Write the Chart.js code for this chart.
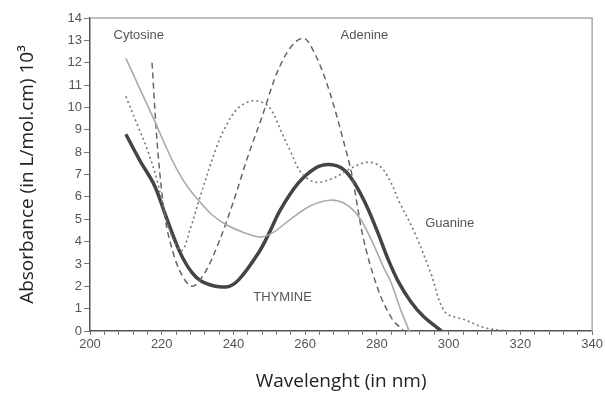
<!DOCTYPE html>
<html>
<head>
<meta charset="utf-8">
<script src="https://cdn.jsdelivr.net/npm/chart.js@4.4.0/dist/chart.umd.min.js"></script>
<style>
  html, body { margin: 0; padding: 0; background: #fff; }
  #wrap { width: 605px; height: 394px; }
</style>
</head>
<body>
<div id="wrap"><canvas id="myChart"></canvas></div>
<script>
// wavelength (nm) and absorbance (L/mol.cm x 10^3)
var thymineNm  = [210, 214, 218, 221, 225, 228.5, 232, 238, 241.5, 247, 250, 253, 258, 263, 266.5, 270, 273, 276.5, 280, 283, 286, 289.5, 293, 298];
var thymineAbs = [8.8, 7.6, 6.5, 5.2, 3.55, 2.6, 2.15, 1.97, 2.3, 3.5, 4.4, 5.4, 6.6, 7.3, 7.45, 7.3, 6.8, 5.8, 4.5, 3.25, 2.2, 1.3, 0.65, 0];

var cytosineNm  = [210, 214, 218, 221, 224, 227, 230.5, 234, 238, 243, 247.5, 251, 255.5, 261.5, 267, 271, 275, 278.5, 282, 284, 286.5, 289];
var cytosineAbs = [12.2, 10.8, 9.4, 8.3, 7.3, 6.5, 5.8, 5.2, 4.75, 4.4, 4.2, 4.4, 4.95, 5.6, 5.85, 5.7, 5.1, 4.05, 2.8, 2.15, 1.0, 0];

var adenineNm  = [217.3, 218.5, 219.5, 221, 223, 225, 228.5, 232, 236, 240, 244, 248, 252, 256, 259.5, 263, 267, 270.5, 273, 276, 280, 284, 287.5];
var adenineAbs = [12.0, 8.9, 7.0, 5.0, 3.6, 2.7, 2.0, 2.6, 4.0, 5.8, 7.8, 9.6, 11.5, 12.7, 13.1, 12.3, 10.6, 8.6, 7.0, 4.3, 2.0, 0.6, 0];

var guanineNm  = [210, 213, 216, 218.6, 222, 225.5, 228, 230.5, 235, 238, 241.5, 246, 250, 253.5, 256, 259, 263, 268, 273, 277.5, 281, 284, 286, 290.5, 295, 299, 304.5, 310, 315, 320];
var guanineAbs = [10.5, 9.3, 8.1, 6.8, 4.6, 3.6, 4.6, 5.9, 8.1, 9.2, 10.0, 10.3, 10.0, 8.85, 8.0, 7.05, 6.65, 6.85, 7.3, 7.55, 7.35, 6.6, 5.85, 4.4, 2.6, 0.85, 0.5, 0.15, 0.03, 0];

var curveLabels = ["Cytosine", "Adenine", "Guanine", "THYMINE"];
var labelNm  = [213.6, 276.5, 300.3, 253.7];
var labelAbs = [13.24, 13.24, 4.8, 1.52];

function pts(xs, ys) {
    return xs.map(function (x, i) { return { x: x, y: ys[i] }; });
}

var framePlugin = {
    id: "frame",
    afterDraw: function (chart) {
        var ctx = chart.ctx, a = chart.chartArea;
        ctx.save();
        ctx.strokeStyle = "#aaa";
        ctx.lineWidth = 1.5;
        ctx.beginPath();
        ctx.moveTo(a.left, a.top);
        ctx.lineTo(a.right, a.top);
        ctx.lineTo(a.right, a.bottom);
        ctx.stroke();

        ctx.fillStyle = "#555";
        ctx.font = "13px 'Liberation Sans', Arial, sans-serif";
        ctx.textAlign = "center";
        ctx.textBaseline = "middle";
        for (var i = 0; i < curveLabels.length; i++) {
            ctx.fillText(curveLabels[i],
                chart.scales.x.getPixelForValue(labelNm[i]),
                chart.scales.y.getPixelForValue(labelAbs[i]));
        }
        ctx.restore();
    }
};

var tickFont = { family: "'Liberation Sans', Arial, sans-serif", size: 13 };

new Chart("myChart", {
    type: "line",
    data: {
        datasets: [{
            label: "Cytosine",
            data: pts(cytosineNm, cytosineAbs),
            borderColor: "#aaa",
            borderWidth: 1.6
        }, {
            label: "Adenine",
            data: pts(adenineNm, adenineAbs),
            borderColor: "#666",
            borderWidth: 1.5,
            borderDash: [6, 4],
            cubicInterpolationMode: "monotone"
        }, {
            label: "Guanine",
            data: pts(guanineNm, guanineAbs),
            borderColor: "#777",
            borderWidth: 1.6,
            borderDash: [2, 3]
        }, {
            label: "Thymine",
            data: pts(thymineNm, thymineAbs),
            borderColor: "#444",
            borderWidth: 3.5
        }]
    },
    options: {
        responsive: true,
        maintainAspectRatio: false,
        animation: false,
        layout: { padding: { top: 18, right: 10, bottom: 0, left: 0 } },
        elements: {
            point: { radius: 0 },
            line: { tension: 0.35, fill: false }
        },
        plugins: {
            legend: { display: false },
            tooltip: { enabled: false }
        },
        scales: {
            x: {
                type: "linear",
                min: 200,
                max: 340,
                afterFit: function (s) { s.height = 63; },
                ticks: {
                    stepSize: 4,
                    autoSkip: false,
                    maxRotation: 0,
                    color: "#555",
                    font: tickFont,
                    padding: 2,
                    callback: function (v) { return v % 20 === 0 ? v : ""; }
                },
                grid: { drawOnChartArea: false, tickLength: 4, color: "#777" },
                border: { color: "#555", width: 1.5 },
                title: {
                    display: true,
                    text: "Wavelenght (in nm)",
                    color: "#222",
                    font: { family: "'Open Sans', sans-serif", size: 19 },
                    padding: { top: 0, bottom: 1 }
                }
            },
            y: {
                min: 0,
                max: 14,
                afterFit: function (s) { s.width = 90; },
                ticks: {
                    stepSize: 1,
                    color: "#555",
                    font: tickFont,
                    padding: 2
                },
                grid: { drawOnChartArea: false, tickLength: 6, color: "#777" },
                border: { color: "#555", width: 1.5 },
                title: {
                    display: true,
                    text: "Absorbance (in L/mol.cm) 10³",
                    color: "#222",
                    font: { family: "'Open Sans', sans-serif", size: 19 },
                    padding: { top: 16, bottom: 0 }
                }
            }
        }
    },
    plugins: [framePlugin]
});
</script>
</body>
</html>
